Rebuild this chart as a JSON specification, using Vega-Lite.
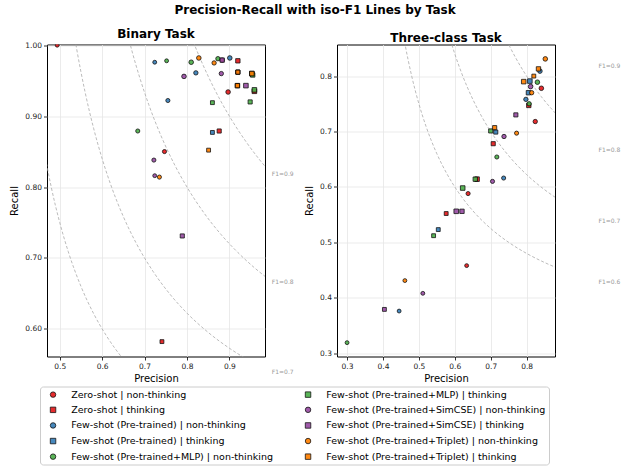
{
  "$schema": "https://vega.github.io/schema/vega-lite/v6.json",
  "background": "white",
  "padding": {"left": 9, "top": 3.5, "right": 0, "bottom": 0},
  "title": {"text": "Precision-Recall with iso-F1 Lines by Task", "font": "DejaVu Sans", "fontSize": 12, "fontWeight": "bold", "anchor": "middle", "offset": 11, "color": "black"},
  "config": {
    "font": "DejaVu Sans",
    "view": {"stroke": "black", "strokeWidth": 1},
    "axis": {"labelFont": "DejaVu Sans", "labelFontSize": 7.5, "labelColor": "#222222", "titleFont": "DejaVu Sans", "titleFontSize": 10, "titleFontWeight": "normal", "titleColor": "black", "tickColor": "black", "tickSize": 3.5, "tickWidth": 0.8, "domain": false, "gridColor": "#e6e6e6", "gridWidth": 0.8, "labelPadding": 2},
    "axisX": {"titlePadding": 4},
    "title": {"font": "DejaVu Sans", "fontSize": 12, "fontWeight": "bold", "color": "black"},
    "legend": {"orient": "none", "legendX": -7, "legendY": 342, "columns": 2, "labelFont": "DejaVu Sans", "labelFontSize": 9.5, "labelColor": "black", "labelLimit": 400, "symbolSize": 30, "symbolStrokeColor": "black", "symbolStrokeWidth": 0.8, "rowPadding": 4.6, "columnPadding": 25, "symbolOffset": 5.3, "labelOffset": 13.4, "strokeColor": "#cccccc", "fillColor": "white", "padding": 3, "cornerRadius": 3, "symbolOpacity": 0.92}
  },
  "datasets": {
    "points": [
      {"task": "Binary", "series": "Zero-shot | non-thinking", "model": "M1", "precision": 0.494, "recall": 1.0},
      {"task": "Binary", "series": "Zero-shot | non-thinking", "model": "M2", "precision": 0.747, "recall": 0.85},
      {"task": "Binary", "series": "Zero-shot | non-thinking", "model": "M3", "precision": 0.883, "recall": 0.979},
      {"task": "Binary", "series": "Zero-shot | non-thinking", "model": "M4", "precision": 0.897, "recall": 0.934},
      {"task": "Binary", "series": "Zero-shot | thinking", "model": "M1", "precision": 0.741, "recall": 0.582},
      {"task": "Binary", "series": "Zero-shot | thinking", "model": "M2", "precision": 0.876, "recall": 0.879},
      {"task": "Binary", "series": "Zero-shot | thinking", "model": "M3", "precision": 0.92, "recall": 0.978},
      {"task": "Binary", "series": "Zero-shot | thinking", "model": "M4", "precision": 0.959, "recall": 0.935},
      {"task": "Binary", "series": "Few-shot (Pre-trained) | non-thinking", "model": "M1", "precision": 0.724, "recall": 0.976},
      {"task": "Binary", "series": "Few-shot (Pre-trained) | non-thinking", "model": "M2", "precision": 0.755, "recall": 0.922},
      {"task": "Binary", "series": "Few-shot (Pre-trained) | non-thinking", "model": "M3", "precision": 0.821, "recall": 0.961},
      {"task": "Binary", "series": "Few-shot (Pre-trained) | non-thinking", "model": "M4", "precision": 0.901, "recall": 0.982},
      {"task": "Binary", "series": "Few-shot (Pre-trained) | thinking", "model": "M1", "precision": 0.86, "recall": 0.877},
      {"task": "Binary", "series": "Few-shot (Pre-trained) | thinking", "model": "M2", "precision": 0.92, "recall": 0.962},
      {"task": "Binary", "series": "Few-shot (Pre-trained) | thinking", "model": "M3", "precision": 0.919, "recall": 0.943},
      {"task": "Binary", "series": "Few-shot (Pre-trained) | thinking", "model": "M4", "precision": 0.953, "recall": 0.96},
      {"task": "Binary", "series": "Few-shot (Pre-trained+MLP) | non-thinking", "model": "M1", "precision": 0.752, "recall": 0.978},
      {"task": "Binary", "series": "Few-shot (Pre-trained+MLP) | non-thinking", "model": "M2", "precision": 0.684, "recall": 0.879},
      {"task": "Binary", "series": "Few-shot (Pre-trained+MLP) | non-thinking", "model": "M3", "precision": 0.873, "recall": 0.981},
      {"task": "Binary", "series": "Few-shot (Pre-trained+MLP) | non-thinking", "model": "M4", "precision": 0.81, "recall": 0.976},
      {"task": "Binary", "series": "Few-shot (Pre-trained+MLP) | thinking", "model": "M1", "precision": 0.86, "recall": 0.919},
      {"task": "Binary", "series": "Few-shot (Pre-trained+MLP) | thinking", "model": "M2", "precision": 0.949, "recall": 0.92},
      {"task": "Binary", "series": "Few-shot (Pre-trained+MLP) | thinking", "model": "M3", "precision": 0.955, "recall": 0.958},
      {"task": "Binary", "series": "Few-shot (Pre-trained+MLP) | thinking", "model": "M4", "precision": 0.959, "recall": 0.937},
      {"task": "Binary", "series": "Few-shot (Pre-trained+SimCSE) | non-thinking", "model": "M1", "precision": 0.724, "recall": 0.816},
      {"task": "Binary", "series": "Few-shot (Pre-trained+SimCSE) | non-thinking", "model": "M2", "precision": 0.722, "recall": 0.838},
      {"task": "Binary", "series": "Few-shot (Pre-trained+SimCSE) | non-thinking", "model": "M3", "precision": 0.881, "recall": 0.96},
      {"task": "Binary", "series": "Few-shot (Pre-trained+SimCSE) | non-thinking", "model": "M4", "precision": 0.793, "recall": 0.956},
      {"task": "Binary", "series": "Few-shot (Pre-trained+SimCSE) | thinking", "model": "M1", "precision": 0.92, "recall": 0.962},
      {"task": "Binary", "series": "Few-shot (Pre-trained+SimCSE) | thinking", "model": "M2", "precision": 0.789, "recall": 0.731},
      {"task": "Binary", "series": "Few-shot (Pre-trained+SimCSE) | thinking", "model": "M3", "precision": 0.883, "recall": 0.979},
      {"task": "Binary", "series": "Few-shot (Pre-trained+SimCSE) | thinking", "model": "M4", "precision": 0.939, "recall": 0.943},
      {"task": "Binary", "series": "Few-shot (Pre-trained+Triplet) | non-thinking", "model": "M1", "precision": 0.919, "recall": 0.943},
      {"task": "Binary", "series": "Few-shot (Pre-trained+Triplet) | non-thinking", "model": "M2", "precision": 0.735, "recall": 0.814},
      {"task": "Binary", "series": "Few-shot (Pre-trained+Triplet) | non-thinking", "model": "M3", "precision": 0.864, "recall": 0.975},
      {"task": "Binary", "series": "Few-shot (Pre-trained+Triplet) | non-thinking", "model": "M4", "precision": 0.828, "recall": 0.982},
      {"task": "Binary", "series": "Few-shot (Pre-trained+Triplet) | thinking", "model": "M1", "precision": 0.851, "recall": 0.852},
      {"task": "Binary", "series": "Few-shot (Pre-trained+Triplet) | thinking", "model": "M2", "precision": 0.92, "recall": 0.962},
      {"task": "Binary", "series": "Few-shot (Pre-trained+Triplet) | thinking", "model": "M3", "precision": 0.919, "recall": 0.943},
      {"task": "Binary", "series": "Few-shot (Pre-trained+Triplet) | thinking", "model": "M4", "precision": 0.953, "recall": 0.96},
      {"task": "Three", "series": "Zero-shot | non-thinking", "model": "M1", "precision": 0.633, "recall": 0.458},
      {"task": "Three", "series": "Zero-shot | non-thinking", "model": "M2", "precision": 0.637, "recall": 0.588},
      {"task": "Three", "series": "Zero-shot | non-thinking", "model": "M3", "precision": 0.824, "recall": 0.718},
      {"task": "Three", "series": "Zero-shot | non-thinking", "model": "M4", "precision": 0.841, "recall": 0.778},
      {"task": "Three", "series": "Zero-shot | thinking", "model": "M1", "precision": 0.576, "recall": 0.552},
      {"task": "Three", "series": "Zero-shot | thinking", "model": "M2", "precision": 0.707, "recall": 0.678},
      {"task": "Three", "series": "Zero-shot | thinking", "model": "M3", "precision": 0.806, "recall": 0.747},
      {"task": "Three", "series": "Zero-shot | thinking", "model": "M4", "precision": 0.662, "recall": 0.614},
      {"task": "Three", "series": "Few-shot (Pre-trained) | non-thinking", "model": "M1", "precision": 0.445, "recall": 0.376},
      {"task": "Three", "series": "Few-shot (Pre-trained) | non-thinking", "model": "M2", "precision": 0.736, "recall": 0.616},
      {"task": "Three", "series": "Few-shot (Pre-trained) | non-thinking", "model": "M3", "precision": 0.798, "recall": 0.758},
      {"task": "Three", "series": "Few-shot (Pre-trained) | non-thinking", "model": "M4", "precision": 0.837, "recall": 0.809},
      {"task": "Three", "series": "Few-shot (Pre-trained) | thinking", "model": "M1", "precision": 0.554, "recall": 0.523},
      {"task": "Three", "series": "Few-shot (Pre-trained) | thinking", "model": "M2", "precision": 0.714, "recall": 0.699},
      {"task": "Three", "series": "Few-shot (Pre-trained) | thinking", "model": "M3", "precision": 0.805, "recall": 0.77},
      {"task": "Three", "series": "Few-shot (Pre-trained) | thinking", "model": "M4", "precision": 0.809, "recall": 0.791},
      {"task": "Three", "series": "Few-shot (Pre-trained+MLP) | non-thinking", "model": "M1", "precision": 0.3, "recall": 0.319},
      {"task": "Three", "series": "Few-shot (Pre-trained+MLP) | non-thinking", "model": "M2", "precision": 0.717, "recall": 0.654},
      {"task": "Three", "series": "Few-shot (Pre-trained+MLP) | non-thinking", "model": "M3", "precision": 0.807, "recall": 0.75},
      {"task": "Three", "series": "Few-shot (Pre-trained+MLP) | non-thinking", "model": "M4", "precision": 0.83, "recall": 0.789},
      {"task": "Three", "series": "Few-shot (Pre-trained+MLP) | thinking", "model": "M1", "precision": 0.541, "recall": 0.512},
      {"task": "Three", "series": "Few-shot (Pre-trained+MLP) | thinking", "model": "M2", "precision": 0.7, "recall": 0.701},
      {"task": "Three", "series": "Few-shot (Pre-trained+MLP) | thinking", "model": "M3", "precision": 0.657, "recall": 0.614},
      {"task": "Three", "series": "Few-shot (Pre-trained+MLP) | thinking", "model": "M4", "precision": 0.622, "recall": 0.598},
      {"task": "Three", "series": "Few-shot (Pre-trained+SimCSE) | non-thinking", "model": "M1", "precision": 0.511, "recall": 0.408},
      {"task": "Three", "series": "Few-shot (Pre-trained+SimCSE) | non-thinking", "model": "M2", "precision": 0.705, "recall": 0.61},
      {"task": "Three", "series": "Few-shot (Pre-trained+SimCSE) | non-thinking", "model": "M3", "precision": 0.737, "recall": 0.691},
      {"task": "Three", "series": "Few-shot (Pre-trained+SimCSE) | non-thinking", "model": "M4", "precision": 0.811, "recall": 0.781},
      {"task": "Three", "series": "Few-shot (Pre-trained+SimCSE) | thinking", "model": "M1", "precision": 0.404, "recall": 0.379},
      {"task": "Three", "series": "Few-shot (Pre-trained+SimCSE) | thinking", "model": "M2", "precision": 0.77, "recall": 0.73},
      {"task": "Three", "series": "Few-shot (Pre-trained+SimCSE) | thinking", "model": "M3", "precision": 0.62, "recall": 0.556},
      {"task": "Three", "series": "Few-shot (Pre-trained+SimCSE) | thinking", "model": "M4", "precision": 0.604, "recall": 0.556},
      {"task": "Three", "series": "Few-shot (Pre-trained+Triplet) | non-thinking", "model": "M1", "precision": 0.461, "recall": 0.431},
      {"task": "Three", "series": "Few-shot (Pre-trained+Triplet) | non-thinking", "model": "M2", "precision": 0.772, "recall": 0.697},
      {"task": "Three", "series": "Few-shot (Pre-trained+Triplet) | non-thinking", "model": "M3", "precision": 0.814, "recall": 0.77},
      {"task": "Three", "series": "Few-shot (Pre-trained+Triplet) | non-thinking", "model": "M4", "precision": 0.852, "recall": 0.831},
      {"task": "Three", "series": "Few-shot (Pre-trained+Triplet) | thinking", "model": "M1", "precision": 0.82, "recall": 0.8},
      {"task": "Three", "series": "Few-shot (Pre-trained+Triplet) | thinking", "model": "M2", "precision": 0.711, "recall": 0.707},
      {"task": "Three", "series": "Few-shot (Pre-trained+Triplet) | thinking", "model": "M3", "precision": 0.833, "recall": 0.813},
      {"task": "Three", "series": "Few-shot (Pre-trained+Triplet) | thinking", "model": "M4", "precision": 0.792, "recall": 0.79}
    ],
    "curves": [
      {"f1": 0.6, "p": 0.42, "r": 1.05}, {"f1": 0.6, "p": 0.44, "r": 0.9429}, {"f1": 0.6, "p": 0.46, "r": 0.8625}, {"f1": 0.6, "p": 0.48, "r": 0.8}, {"f1": 0.6, "p": 0.5, "r": 0.75}, {"f1": 0.6, "p": 0.52, "r": 0.7091}, {"f1": 0.6, "p": 0.55, "r": 0.66}, {"f1": 0.6, "p": 0.58, "r": 0.6214}, {"f1": 0.6, "p": 0.61, "r": 0.5903}, {"f1": 0.6, "p": 0.65, "r": 0.5571}, {"f1": 0.6, "p": 0.7, "r": 0.525}, {"f1": 0.6, "p": 0.75, "r": 0.5}, {"f1": 0.6, "p": 0.8, "r": 0.48}, {"f1": 0.6, "p": 0.85, "r": 0.4636}, {"f1": 0.6, "p": 0.9, "r": 0.45}, {"f1": 0.6, "p": 0.95, "r": 0.4385}, {"f1": 0.6, "p": 1.0, "r": 0.4286},
      {"f1": 0.7, "p": 0.525, "r": 1.05}, {"f1": 0.7, "p": 0.54, "r": 0.9947}, {"f1": 0.7, "p": 0.56, "r": 0.9333}, {"f1": 0.7, "p": 0.58, "r": 0.8826}, {"f1": 0.7, "p": 0.6, "r": 0.84}, {"f1": 0.7, "p": 0.62, "r": 0.8037}, {"f1": 0.7, "p": 0.65, "r": 0.7583}, {"f1": 0.7, "p": 0.68, "r": 0.7212}, {"f1": 0.7, "p": 0.72, "r": 0.6811}, {"f1": 0.7, "p": 0.76, "r": 0.6488}, {"f1": 0.7, "p": 0.8, "r": 0.6222}, {"f1": 0.7, "p": 0.85, "r": 0.595}, {"f1": 0.7, "p": 0.9, "r": 0.5727}, {"f1": 0.7, "p": 0.95, "r": 0.5542}, {"f1": 0.7, "p": 1.0, "r": 0.5385},
      {"f1": 0.8, "p": 0.63, "r": 1.0957}, {"f1": 0.8, "p": 0.65, "r": 1.04}, {"f1": 0.8, "p": 0.67, "r": 0.9926}, {"f1": 0.8, "p": 0.69, "r": 0.9517}, {"f1": 0.8, "p": 0.71, "r": 0.9161}, {"f1": 0.8, "p": 0.74, "r": 0.8706}, {"f1": 0.8, "p": 0.77, "r": 0.8324}, {"f1": 0.8, "p": 0.8, "r": 0.8}, {"f1": 0.8, "p": 0.84, "r": 0.7636}, {"f1": 0.8, "p": 0.88, "r": 0.7333}, {"f1": 0.8, "p": 0.92, "r": 0.7077}, {"f1": 0.8, "p": 0.96, "r": 0.6857}, {"f1": 0.8, "p": 1.0, "r": 0.6667},
      {"f1": 0.9, "p": 0.73, "r": 1.1732}, {"f1": 0.9, "p": 0.75, "r": 1.125}, {"f1": 0.9, "p": 0.77, "r": 1.0828}, {"f1": 0.9, "p": 0.79, "r": 1.0456}, {"f1": 0.9, "p": 0.81, "r": 1.0125}, {"f1": 0.9, "p": 0.83, "r": 0.9829}, {"f1": 0.9, "p": 0.85, "r": 0.9563}, {"f1": 0.9, "p": 0.88, "r": 0.9209}, {"f1": 0.9, "p": 0.91, "r": 0.8902}, {"f1": 0.9, "p": 0.94, "r": 0.8633}, {"f1": 0.9, "p": 0.97, "r": 0.8394}, {"f1": 0.9, "p": 1.0, "r": 0.8182}
    ],
    "labels_binary": [
      {"p": 1.0, "r": 0.8182, "label": "F1=0.9"},
      {"p": 1.0, "r": 0.6667, "label": "F1=0.8"},
      {"p": 1.0, "r": 0.5385, "label": "F1=0.7"}
    ],
    "labels_three": [
      {"p": 1.0, "r": 0.8182, "label": "F1=0.9"},
      {"p": 1.0, "r": 0.6667, "label": "F1=0.8"},
      {"p": 1.0, "r": 0.5385, "label": "F1=0.7"},
      {"p": 1.0, "r": 0.4286, "label": "F1=0.6"}
    ]
  },
  "hconcat": [
    {
      "width": 218, "height": 312,
      "title": {"text": "Binary Task", "offset": 0},
      "layer": [
        {
          "data": {"name": "curves"},
          "mark": {"type": "line", "clip": true, "color": "#aaaaaa", "strokeWidth": 0.8, "strokeDash": [3, 2], "interpolate": "monotone"},
          "encoding": {
            "x": {"field": "p", "type": "quantitative", "scale": {"domain": [0.47, 0.984], "nice": false, "zero": false}, "axis": {"values": [0.5, 0.6, 0.7, 0.8, 0.9], "format": ".1f", "title": "Precision"}},
            "y": {"field": "r", "type": "quantitative", "scale": {"domain": [0.561, 1.001], "nice": false, "zero": false}, "axis": {"values": [0.6, 0.65, 0.7, 0.75, 0.8, 0.85, 0.9, 0.95, 1.0], "format": ".2f", "title": "Recall", "titlePadding": 5}},
            "detail": {"field": "f1", "type": "nominal"}
          }
        },
        {
          "data": {"name": "labels_binary"},
          "mark": {"type": "text", "align": "left", "baseline": "middle", "fontSize": 6, "color": "#999999"},
          "encoding": {
            "x": {"field": "p", "type": "quantitative", "scale": {"domain": [0.47, 0.984], "nice": false, "zero": false}},
            "y": {"field": "r", "type": "quantitative", "scale": {"domain": [0.561, 1.001], "nice": false, "zero": false}},
            "text": {"field": "label"}
          }
        },
        {
          "data": {"name": "points"},
          "transform": [{"filter": "datum.task === 'Binary'"}, {"window": [{"op": "row_number", "as": "idx"}]}],
          "mark": {"type": "point", "filled": true, "clip": true, "opacity": 0.92, "stroke": "black", "strokeWidth": 0.8},
          "encoding": {
            "x": {"field": "precision", "type": "quantitative", "scale": {"domain": [0.47, 0.984], "nice": false, "zero": false}},
            "y": {"field": "recall", "type": "quantitative", "scale": {"domain": [0.561, 1.001], "nice": false, "zero": false}},
            "color": {"field": "series", "type": "nominal",
              "scale": {"domain": ["Zero-shot | non-thinking", "Zero-shot | thinking", "Few-shot (Pre-trained) | non-thinking", "Few-shot (Pre-trained) | thinking", "Few-shot (Pre-trained+MLP) | non-thinking", "Few-shot (Pre-trained+MLP) | thinking", "Few-shot (Pre-trained+SimCSE) | non-thinking", "Few-shot (Pre-trained+SimCSE) | thinking", "Few-shot (Pre-trained+Triplet) | non-thinking", "Few-shot (Pre-trained+Triplet) | thinking"],
                "range": ["#e41a1c", "#e41a1c", "#377eb8", "#377eb8", "#4daf4a", "#4daf4a", "#984ea3", "#984ea3", "#ff7f00", "#ff7f00"]},
              "legend": {"title": null, "encode": {"symbols": {"update": {"shape": {"scale": "shape", "field": "value"}}}}}},
            "shape": {"field": "series", "type": "nominal", "legend": null,
              "scale": {"domain": ["Zero-shot | non-thinking", "Zero-shot | thinking", "Few-shot (Pre-trained) | non-thinking", "Few-shot (Pre-trained) | thinking", "Few-shot (Pre-trained+MLP) | non-thinking", "Few-shot (Pre-trained+MLP) | thinking", "Few-shot (Pre-trained+SimCSE) | non-thinking", "Few-shot (Pre-trained+SimCSE) | thinking", "Few-shot (Pre-trained+Triplet) | non-thinking", "Few-shot (Pre-trained+Triplet) | thinking"],
                "range": ["circle", "square", "circle", "square", "circle", "square", "circle", "square", "circle", "square"]}},
            "size": {"field": "model", "type": "ordinal", "legend": null, "scale": {"domain": ["M1", "M2", "M3", "M4"], "range": [15, 21, 28, 37]}},
            "order": {"field": "idx", "type": "quantitative"}
          }
        }
      ]
    },
    {
      "width": 218, "height": 312,
      "title": {"text": "Three-class Task", "offset": 0},
      "layer": [
        {
          "data": {"name": "curves"},
          "mark": {"type": "line", "clip": true, "color": "#aaaaaa", "strokeWidth": 0.8, "strokeDash": [3, 2], "interpolate": "monotone"},
          "encoding": {
            "x": {"field": "p", "type": "quantitative", "scale": {"domain": [0.272, 0.879], "nice": false, "zero": false}, "axis": {"values": [0.3, 0.4, 0.5, 0.6, 0.7, 0.8], "format": ".1f", "title": "Precision"}},
            "y": {"field": "r", "type": "quantitative", "scale": {"domain": [0.294, 0.857], "nice": false, "zero": false}, "axis": {"values": [0.3, 0.4, 0.5, 0.6, 0.7, 0.8], "format": ".1f", "title": "Recall", "titlePadding": 5}},
            "detail": {"field": "f1", "type": "nominal"}
          }
        },
        {
          "data": {"name": "labels_three"},
          "mark": {"type": "text", "align": "left", "baseline": "middle", "fontSize": 6, "color": "#999999"},
          "encoding": {
            "x": {"field": "p", "type": "quantitative", "scale": {"domain": [0.272, 0.879], "nice": false, "zero": false}},
            "y": {"field": "r", "type": "quantitative", "scale": {"domain": [0.294, 0.857], "nice": false, "zero": false}},
            "text": {"field": "label"}
          }
        },
        {
          "data": {"name": "points"},
          "transform": [{"filter": "datum.task === 'Three'"}, {"window": [{"op": "row_number", "as": "idx"}]}],
          "mark": {"type": "point", "filled": true, "clip": true, "opacity": 0.92, "stroke": "black", "strokeWidth": 0.8},
          "encoding": {
            "x": {"field": "precision", "type": "quantitative", "scale": {"domain": [0.272, 0.879], "nice": false, "zero": false}},
            "y": {"field": "recall", "type": "quantitative", "scale": {"domain": [0.294, 0.857], "nice": false, "zero": false}},
            "color": {"field": "series", "type": "nominal",
              "scale": {"domain": ["Zero-shot | non-thinking", "Zero-shot | thinking", "Few-shot (Pre-trained) | non-thinking", "Few-shot (Pre-trained) | thinking", "Few-shot (Pre-trained+MLP) | non-thinking", "Few-shot (Pre-trained+MLP) | thinking", "Few-shot (Pre-trained+SimCSE) | non-thinking", "Few-shot (Pre-trained+SimCSE) | thinking", "Few-shot (Pre-trained+Triplet) | non-thinking", "Few-shot (Pre-trained+Triplet) | thinking"],
                "range": ["#e41a1c", "#e41a1c", "#377eb8", "#377eb8", "#4daf4a", "#4daf4a", "#984ea3", "#984ea3", "#ff7f00", "#ff7f00"]},
              "legend": {"title": null, "encode": {"symbols": {"update": {"shape": {"scale": "shape", "field": "value"}}}}}},
            "shape": {"field": "series", "type": "nominal", "legend": null,
              "scale": {"domain": ["Zero-shot | non-thinking", "Zero-shot | thinking", "Few-shot (Pre-trained) | non-thinking", "Few-shot (Pre-trained) | thinking", "Few-shot (Pre-trained+MLP) | non-thinking", "Few-shot (Pre-trained+MLP) | thinking", "Few-shot (Pre-trained+SimCSE) | non-thinking", "Few-shot (Pre-trained+SimCSE) | thinking", "Few-shot (Pre-trained+Triplet) | non-thinking", "Few-shot (Pre-trained+Triplet) | thinking"],
                "range": ["circle", "square", "circle", "square", "circle", "square", "circle", "square", "circle", "square"]}},
            "size": {"field": "model", "type": "ordinal", "legend": null, "scale": {"domain": ["M1", "M2", "M3", "M4"], "range": [15, 21, 28, 37]}},
            "order": {"field": "idx", "type": "quantitative"}
          }
        }
      ]
    }
  ],
  "spacing": 72,
  "bounds": "flush",
  "resolve": {"scale": {"x": "independent", "y": "independent", "color": "shared", "shape": "shared", "size": "shared"}, "legend": {"color": "shared", "shape": "shared"}}
}
